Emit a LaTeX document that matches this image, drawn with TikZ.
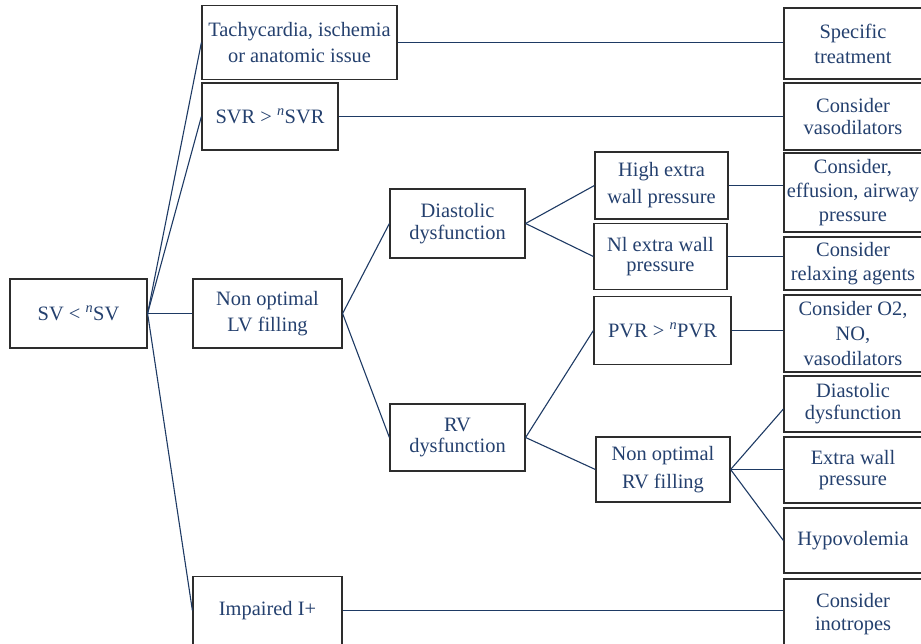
\documentclass[tikz,border=0pt]{standalone}
\usepackage{fontspec}
\setmainfont{Liberation Serif}
\usepackage{tikz}
\usetikzlibrary{shapes}
\definecolor{txtblue}{RGB}{36,64,110}
\definecolor{linkblue}{RGB}{30,58,100}
\definecolor{boxgray}{RGB}{45,45,45}
\tikzstyle{block} = [rectangle, draw=boxgray, line width=1.2bp, text=txtblue,
    align=center, inner sep=0pt, font=\fontsize{20.5}{25}\selectfont]
\tikzstyle{treat} = [block, minimum width=138bp]
\tikzstyle{line} = [draw=linkblue, line width=1.1bp]
\newcommand{\nsup}{\textsuperscript{\textit{n}}}

\begin{document}
\begin{tikzpicture}[x=1bp, y=-1bp, node distance=70bp, auto]
        \useasboundingbox (0,0) rectangle (921,644);
        \clip (0,0) rectangle (921,644);
        % Place nodes
        \node [block, minimum width=137bp, minimum height=69bp] (sv) at (78.5,313.5) {SV < \nsup SV};
        \node [block, right of=sv, node distance=189bp, minimum width=149bp, minimum height=69bp] (lvfill) {Non optimal\\[1pt]LV filling};
        \node [block, below of=lvfill, node distance=297bp, minimum width=149bp, minimum height=68bp] (impaired) {Impaired I+};
        \node [block, minimum width=195bp, minimum height=74bp] (tachy) at (299.5,42.5) {Tachycardia, ischemia\\[2pt]or anatomic issue};
        \node [block, minimum width=136bp, minimum height=67bp] (svr) at (270,116.5) {SVR > \nsup SVR};
        \node [block, minimum width=135bp, minimum height=69bp] (diast) at (457.5,223.5) {Diastolic\\[-3pt]dysfunction};
        \node [block, below of=diast, node distance=214bp, minimum width=135bp, minimum height=67bp] (rvdys) {RV\\[-3pt]dysfunction};
        \node [block, minimum width=133bp, minimum height=67bp] (highwall) at (661.5,185.5) {High extra\\[2pt]wall pressure};
        \node [block, below of=highwall, node distance=71bp, xshift=-1bp, minimum width=133bp, minimum height=66bp] (nlwall) {Nl extra wall\\[-5pt]pressure};
        \node [block, minimum width=137bp, minimum height=68bp] (pvr) at (662.5,330.5) {PVR > \nsup PVR};
        \node [block, minimum width=134bp, minimum height=65bp] (rvfill) at (663,469.5) {Non optimal\\[3pt]RV filling};
        \node [treat, minimum height=71bp] (spec) at (853,43.5) {Specific\\treatment};
        \node [treat, below of=spec, node distance=73bp, minimum height=67bp] (vasodil) {Consider\\[-2pt]vasodilators};
        \node [treat, below of=vasodil, node distance=76bp, minimum height=79bp] (effus) {Consider,\\[-1pt]effusion, airway\\[-1pt]pressure};
        \node [treat, below of=effus, node distance=71bp, minimum height=53bp] (relax) {Consider\\[-1pt]relaxing agents};
        \node [treat, below of=relax, node distance=70bp, minimum height=77bp] (otwo) {Consider O2,\\NO,\\vasodilators};
        \node [treat, below of=otwo, node distance=70.5bp, minimum height=56bp] (rdiast) {Diastolic\\[-3pt]dysfunction};
        \node [treat, below of=rdiast, node distance=66bp, minimum height=66bp] (extrawall) {Extra wall\\[-4pt]pressure};
        \node [treat, below of=extrawall, node distance=70.5bp, minimum height=65bp] (hypo) {Hypovolemia};
        \node [treat, below of=hypo, node distance=74bp, minimum height=71bp] (inotr) {Consider\\[-2pt]inotropes};
        % Draw edges
        \path [line] (sv.east) -- (tachy.west);
        \path [line] (sv.east) -- (svr.west);
        \path [line] (sv.east) -- (lvfill.west);
        \path [line] (sv.east) -- (impaired.west);
        \path [line] (tachy.east) -- (tachy.east -| spec.west);
        \path [line] (svr.east) -- (svr.east -| vasodil.west);
        \path [line] (lvfill.east) -- (diast.west);
        \path [line] (lvfill.east) -- (rvdys.west);
        \path [line] (diast.east) -- (highwall.west);
        \path [line] (diast.east) -- (nlwall.west);
        \path [line] (highwall.east) -- (highwall.east -| effus.west);
        \path [line] (nlwall.east) -- (nlwall.east -| relax.west);
        \path [line] (rvdys.east) -- (pvr.west);
        \path [line] (rvdys.east) -- (rvfill.west);
        \path [line] (pvr.east) -- (pvr.east -| otwo.west);
        \path [line] (rvfill.east) -- ([yshift=-5bp]rdiast.west);
        \path [line] (rvfill.east) -- (rvfill.east -| extrawall.west);
        \path [line] (rvfill.east) -- (hypo.west);
        \path [line] (impaired.east) -- (impaired.east -| inotr.west);
    \end{tikzpicture}
\end{document}
